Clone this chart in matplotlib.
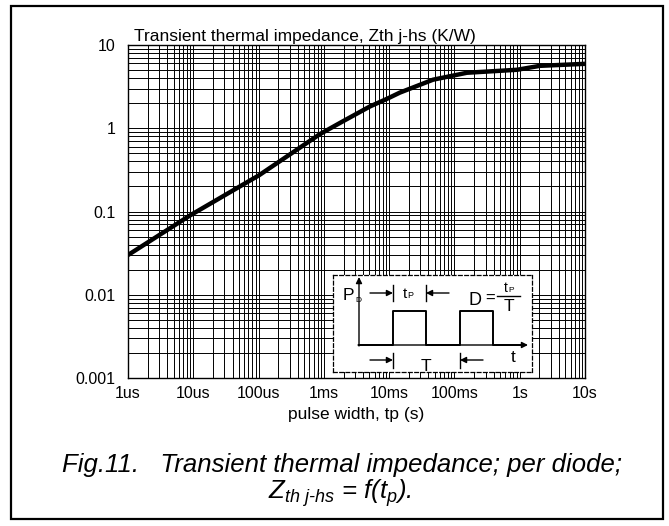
import matplotlib
matplotlib.use("Agg")
import matplotlib.pyplot as plt
from matplotlib.patches import Rectangle

plt.rcParams['font.family'] = ['Liberation Sans', 'DejaVu Sans']
plt.rcParams['mathtext.fontset'] = 'custom'
plt.rcParams['mathtext.it'] = 'Liberation Sans:italic'
plt.rcParams['mathtext.rm'] = 'Liberation Sans:italic'

# ---- data ----
t_pulse = [1e-6, 8.9e-6, 8.2e-5, 1e-4, 8.7e-4, 1.95e-3, 5.1e-3, 9.2e-3,
           1.46e-2, 4.7e-2, 0.155, 0.91, 2.04, 10]
zth = [0.030, 0.0896, 0.247, 0.27, 0.85, 1.21, 1.83, 2.25, 2.68, 3.83,
       4.64, 5.04, 5.62, 5.94]
x_ticks = [1e-6, 1e-5, 1e-4, 1e-3, 1e-2, 1e-1, 1, 10]
x_ticklabels = ['1us', '10us', '100us', '1ms', '10ms', '100ms', '1s', '10s']
y_ticks = [0.001, 0.01, 0.1, 1, 10]
y_ticklabels = ['0.001', '0.01', '0.1', '1', '10']

# pulse diagram (schematic, in inset pixel units)
pulse_x = [359, 393, 393, 426, 426, 460, 460, 493, 493, 520]
pulse_y = [345, 345, 311, 311, 345, 345, 311, 311, 345, 345]

W, H = 669, 526
fig = plt.figure(figsize=(W / 100, H / 100), dpi=100)

def fx(px):
    return px / W

def fy(py):
    return 1 - py / H

# outer frame
fig.patches.append(Rectangle((fx(11), fy(519)), fx(663) - fx(11), fy(6) - fy(519),
                             transform=fig.transFigure, fill=False, lw=1.6,
                             edgecolor='black'))

ax = fig.add_axes([fx(128), fy(378), fx(585) - fx(128), fy(45) - fy(378)])
ax.set_xscale('log')
ax.set_yscale('log')
ax.set_xlim(1e-6, 10)
ax.set_ylim(0.001, 10)
ax.grid(True, which='both', color='black', lw=0.7)
ax.set_axisbelow(True)
ax.plot(t_pulse, zth, color='black', lw=3.2, solid_capstyle='butt', zorder=3)
ax.set_xticks(x_ticks)
ax.set_xticklabels(x_ticklabels)
ax.set_yticks(y_ticks)
ax.set_yticklabels(y_ticklabels)
ax.tick_params(which='both', length=0, labelsize=11.5)
ax.tick_params(axis='x', pad=6)
ax.tick_params(axis='y', pad=9)
for s in ax.spines.values():
    s.set_linewidth(1.0)
ax.set_xlabel('pulse width, tp (s)', fontsize=12.5, labelpad=4)

fig.text(fx(134), fy(41), 'Transient thermal impedance, Zth j-hs (K/W)',
         fontsize=12.5, ha='left', va='baseline')

# inset
ins = fig.add_axes([fx(333), fy(372), fx(532) - fx(333), fy(275) - fy(372)])
ins.set_xlim(333, 532)
ins.set_ylim(372, 275)
ins.set_xticks([])
ins.set_yticks([])
ins.set_facecolor('white')
for s in ins.spines.values():
    s.set_linestyle((0, (3, 2)))
    s.set_linewidth(0.9)
ins.set_zorder(5)

ins.plot(pulse_x, pulse_y, color='black', lw=1.4)
ap = dict(arrowstyle='-|>', lw=1.0, color='black', mutation_scale=9,
          shrinkA=0, shrinkB=0)
ins.annotate('', xy=(359, 277), xytext=(359, 346), arrowprops=ap)
ins.annotate('', xy=(528, 345), xytext=(358, 345), arrowprops=ap)
# tp arrows
ins.annotate('', xy=(393, 293), xytext=(370, 293), arrowprops=ap)
ins.annotate('', xy=(426, 293), xytext=(449, 293), arrowprops=ap)
ins.plot([393, 393], [285, 301], color='black', lw=1.0)
ins.plot([426, 426], [285, 301], color='black', lw=1.0)
# T arrows
ins.annotate('', xy=(393, 360), xytext=(370, 360), arrowprops=ap)
ins.annotate('', xy=(460, 360), xytext=(483, 360), arrowprops=ap)
ins.plot([393, 393], [353, 368], color='black', lw=1.0)
ins.plot([460, 460], [353, 368], color='black', lw=1.0)

ins.text(343, 300, 'P', fontsize=12.5, ha='left', va='baseline')
ins.text(355, 302, 'D', fontsize=6, ha='left', va='baseline')
ins.text(403, 298, 't', fontsize=11, ha='left', va='baseline')
ins.text(407.5, 298, 'P', fontsize=6.5, ha='left', va='baseline')
ins.text(426, 371, 'T', fontsize=12.5, ha='center', va='baseline')
ins.text(513, 362, 't', fontsize=12.5, ha='center', va='baseline')
ins.text(468, 305, 'D', fontsize=13, ha='left', va='baseline')
ins.text(485, 303, '=', fontsize=12, ha='left', va='baseline')
ins.plot([497, 520], [296, 296], color='black', lw=1.0)
ins.text(504, 292.5, 't', fontsize=10, ha='left', va='baseline')
ins.text(508, 292.5, 'P', fontsize=6, ha='left', va='baseline')
ins.text(508.5, 311, 'T', fontsize=12.5, ha='center', va='baseline')

# caption
fig.text(fx(342), fy(472), 'Fig.11.   Transient thermal impedance; per diode;',
         fontsize=18.5, style='italic', ha='center', va='baseline')
fig.text(fx(340), fy(499), r'$Z_{th\ j\text{-}hs}$ = f(t$_p$).',
         fontsize=18.5, style='italic', ha='center', va='baseline')

fig.savefig('out.png', dpi=100)
